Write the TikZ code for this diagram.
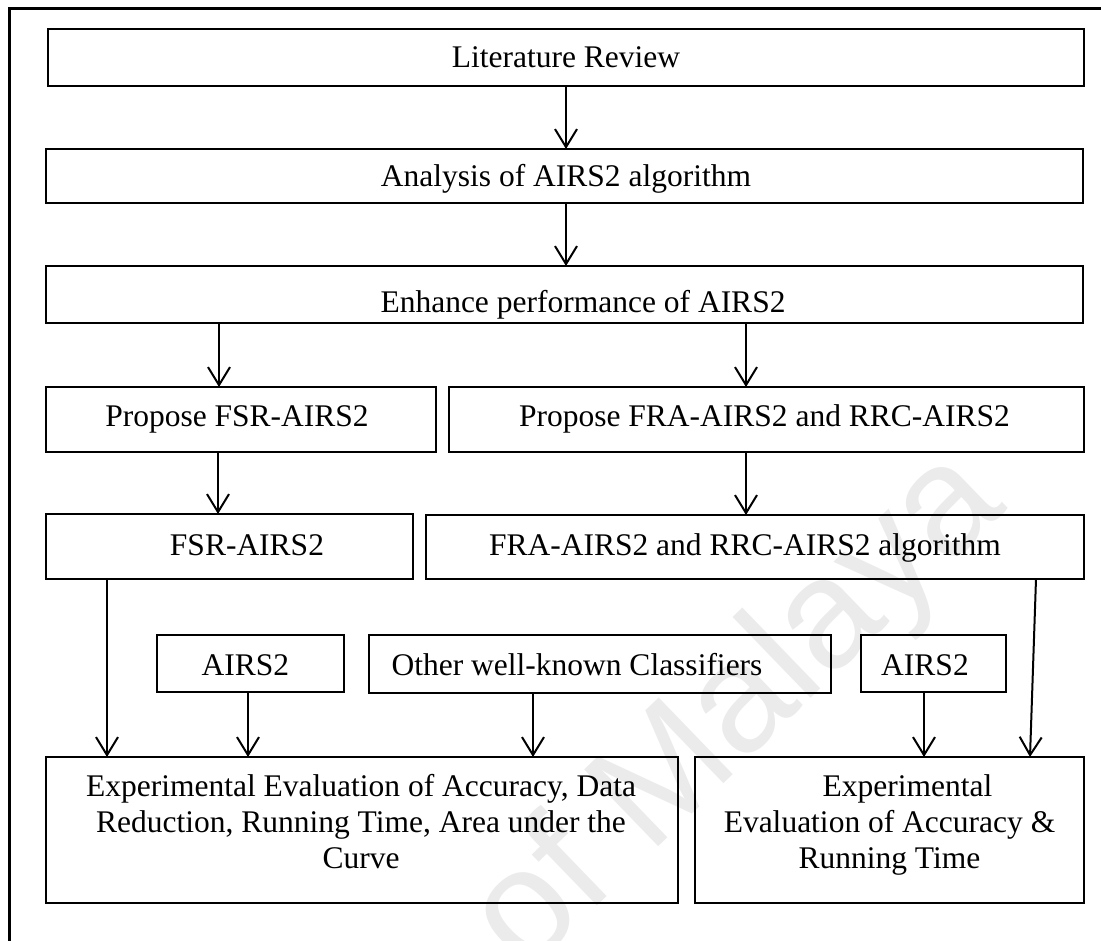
\documentclass[tikz,border=0pt]{standalone}
\usepackage{fontspec}
\setmainfont{Liberation Serif}
\newfontfamily\markfont{Liberation Sans}
\usetikzlibrary{arrows.meta}
\begin{document}
\begin{tikzpicture}[x=1pt,y=-1pt,
  box/.style={draw, line width=2.2pt, inner sep=0pt, outer sep=0pt},
  lbl/.style={font=\fontsize{31.5}{36}\selectfont, inner sep=0pt, anchor=base, align=center},
  arr/.style={line width=2pt, -{Straight Barb[length=18pt,width=22pt]}},
  frameline/.style={line width=3pt},
  wmark/.style={font=\markfont\fontsize{155}{155}\selectfont, text=black!8, inner sep=0pt}]
\useasboundingbox (0,0) rectangle (1101,941);
\fill[white] (0,0) rectangle (1101,941);

% faint background stamp
\node[wmark, rotate=44, anchor=base west] (stamp) at (525,975) {of Malaya};

% outer frame
\draw[frameline] (9,941) -- (9,9) -- (1101,9);

% boxes
\node[box, minimum width=1036pt, minimum height=57pt] (lit)   at (566,57.5)   {};
\node[box, minimum width=1037pt, minimum height=54pt] (ana)   at (564.5,176)  {};
\node[box, minimum width=1037pt, minimum height=57pt] (enh)   at (564.5,294.5){};
\node[box, minimum width=390pt,  minimum height=65pt] (pfsr)  at (241,419.5)  {};
\node[box, minimum width=635pt,  minimum height=65pt] (pfra)  at (766.5,419.5){};
\node[box, minimum width=367pt,  minimum height=65pt] (fsr)   at (229.5,546.5){};
\node[box, minimum width=658pt,  minimum height=64pt] (fra)   at (755,547)    {};
\node[box, minimum width=187pt,  minimum height=57pt] (airA)  at (250.5,663.5){};
\node[box, minimum width=462pt,  minimum height=58pt] (oth)   at (600,664)    {};
\node[box, minimum width=145pt,  minimum height=57pt] (airB)  at (933.5,663.5){};
\node[box, minimum width=632pt,  minimum height=146pt](expA)  at (362,830)    {};
\node[box, minimum width=389pt,  minimum height=146pt](expB)  at (889.5,830)  {};

% labels
\node[lbl] (lit-t)  at (566,68)   {Literature Review};
\node[lbl] (ana-t)  at (566,187)  {Analysis of AIRS2 algorithm};
\node[lbl] (enh-t)  at (583,313)  {Enhance performance of AIRS2};
\node[lbl] (pfsr-t) at (237,427)  {Propose FSR-AIRS2};
\node[lbl] (pfra-t) at (764.5,427){Propose FRA-AIRS2 and RRC-AIRS2};
\node[lbl] (fsr-t)  at (247,555)  {FSR-AIRS2};
\node[lbl] (fra-t)  at (745,555)  {FRA-AIRS2 and RRC-AIRS2 algorithm};
\node[lbl] (airA-t) at (245.5,675){AIRS2};
\node[lbl] (oth-t)  at (577,675)  {Other well-known Classifiers};
\node[lbl] (airB-t) at (925,675)  {AIRS2};
\node[lbl, anchor=north] (expA-t) at (361,774.5)  {Experimental Evaluation of Accuracy, Data\\Reduction, Running Time, Area under the\\Curve};
\node[lbl, anchor=north] (expB-t) at (889.5,774.5){\hspace*{36pt}Experimental\\Evaluation of Accuracy \&\\Running Time};

% connector columns
\coordinate (k1) at (566,0);
\coordinate (k2) at (219,0);
\coordinate (k3) at (746,0);
\coordinate (k4) at (218,0);
\coordinate (k5) at (107,0);
\coordinate (k6) at (1036,0);
\coordinate (k7) at (1030,0);
\coordinate (k8) at (248,0);
\coordinate (k9) at (533,0);
\coordinate (k10) at (924,0);

% connectors
\draw[arr] (lit.south -| k1)  -- (ana.north -| k1);
\draw[arr] (ana.south -| k1)  -- (enh.north -| k1);
\draw[arr] (enh.south -| k2)  -- (pfsr.north -| k2);
\draw[arr] (enh.south -| k3)  -- (pfra.north -| k3);
\draw[arr] (pfsr.south -| k4) -- (fsr.north -| k4);
\draw[arr] (pfra.south -| k3) -- (fra.north -| k3);
\draw[arr] (fsr.south -| k5)  -- (expA.north -| k5);
\draw[arr] (airA.south -| k8) -- (expA.north -| k8);
\draw[arr] (oth.south -| k9)  -- (expA.north -| k9);
\draw[arr] (airB.south -| k10)-- (expB.north -| k10);
\draw[arr] (fra.south -| k6)  -- (expB.north -| k7);
\end{tikzpicture}
\end{document}
